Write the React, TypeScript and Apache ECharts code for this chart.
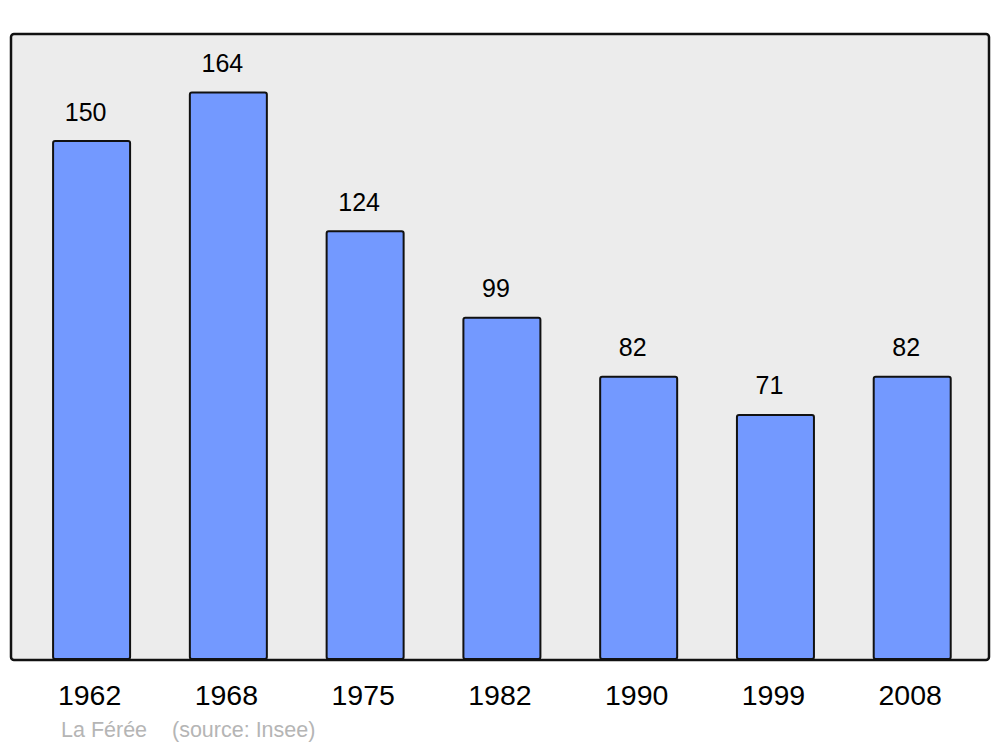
import React, { useEffect, useRef } from "react";
import * as echarts from "echarts";

const years = ["1962", "1968", "1975", "1982", "1990", "1999", "2008"];
const population = [150, 164, 124, 99, 82, 71, 82];
const sourceName = "La Férée";
const sourceNote = "(source: Insee)";

export default function App() {
  const ref = useRef<HTMLDivElement>(null);
  useEffect(() => {
    const chart = echarts.init(ref.current!, null, { renderer: "svg" });
    chart.setOption({
      animation: false,
      textStyle: { fontFamily: "Liberation Sans, Arial, sans-serif" },
      grid: { left: 23.2, right: 19.4, top: 34, bottom: 87 },
      graphic: [
        {
          type: "rect",
          z: -10,
          shape: { x: 11, y: 34, width: 978, height: 626, r: 3 },
          style: { fill: "#ececec", stroke: "#111", lineWidth: 2.5 },
        },
        {
          type: "text",
          left: 61,
          top: 719,
          style: {
            text: sourceName,
            fill: "#b5b5b5",
            font: "21.5px 'Liberation Sans', Arial, sans-serif",
          },
        },
        {
          type: "text",
          left: 172,
          top: 719,
          style: {
            text: sourceNote,
            fill: "#b5b5b5",
            font: "21.5px 'Liberation Sans', Arial, sans-serif",
          },
        },
      ],
      xAxis: {
        type: "category",
        data: years,
        axisLine: { show: false },
        axisTick: { show: false },
        axisLabel: {
          margin: 20,
          fontSize: 28.5,
          color: "#000",
          padding: [0, 4, 0, 0],
          fontFamily: "Liberation Sans, Arial, sans-serif",
        },
      },
      yAxis: {
        type: "value",
        min: 0,
        max: 180.6,
        show: false,
        splitLine: { show: false },
      },
      series: [
        {
          type: "bar",
          data: population,
          barWidth: 79,
          itemStyle: {
            color: "#7399ff",
            borderColor: "#111",
            borderWidth: 2,
            borderRadius: 2,
          },
          label: {
            show: true,
            position: "top",
            distance: 16,
            offset: [-6, 0],
            fontSize: 25,
            color: "#000",
            fontFamily: "Liberation Sans, Arial, sans-serif",
          },
        },
      ],
    });
    return () => chart.dispose();
  }, []);
  return <div ref={ref} style={{ width: 1000, height: 747, position: "absolute", left: 0, top: 0 }} />;
}
